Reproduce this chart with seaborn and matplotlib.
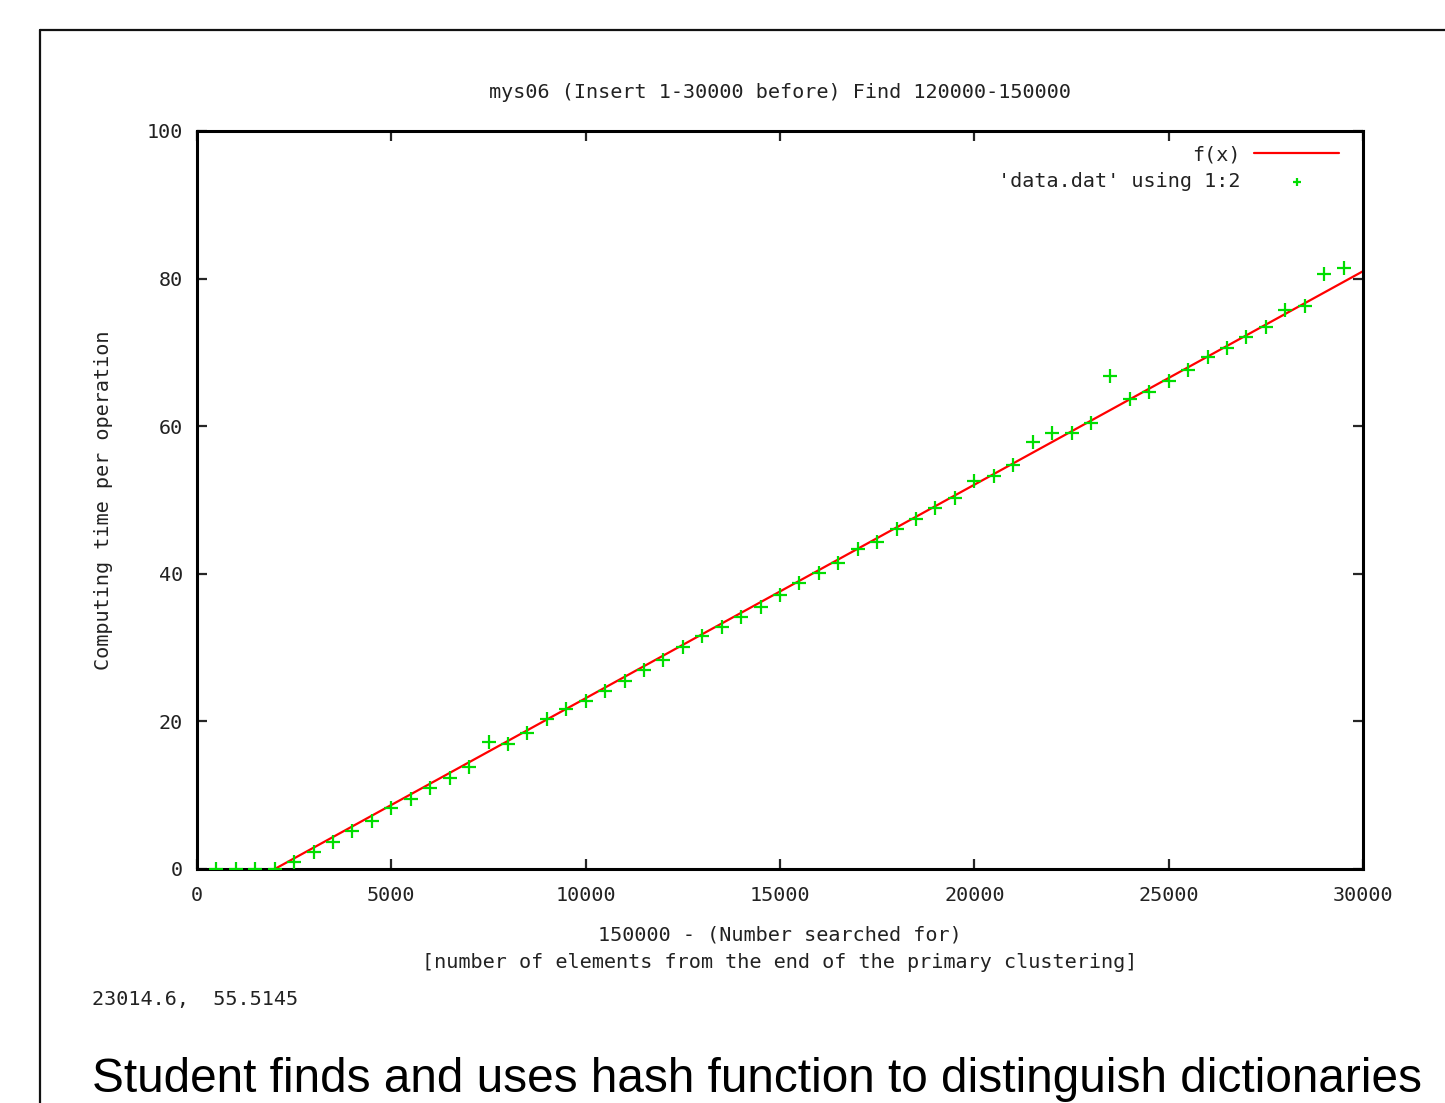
import numpy as np
import pandas as pd
import matplotlib.pyplot as plt
import seaborn as sns
from matplotlib.lines import Line2D

# measured points ('data.dat' using 1:2)
x_vals = [500, 1000, 1500, 2000, 2500, 3000, 3500, 4000, 4500, 5000,
          5500, 6000, 6500, 7000, 7500, 8000, 8500, 9000, 9500, 10000,
          10500, 11000, 11500, 12000, 12500, 13000, 13500, 14000, 14500, 15000,
          15500, 16000, 16500, 17000, 17500, 18000, 18500, 19000, 19500, 20000,
          20500, 21000, 21500, 22000, 22500, 23000, 23500, 24000, 24500, 25000,
          25500, 26000, 26500, 27000, 27500, 28000, 28500, 29000, 29500]
y_vals = [0, 0, 0, 0, 1.0, 2.3, 3.7, 5.1, 6.5, 8.3,
          9.5, 11.0, 12.3, 13.8, 17.2, 16.9, 18.4, 20.3, 21.7, 22.8,
          24.1, 25.5, 27.0, 28.3, 30.1, 31.6, 32.8, 34.1, 35.5, 37.1,
          38.8, 40.1, 41.5, 43.3, 44.3, 46.1, 47.4, 48.9, 50.3, 52.6,
          53.3, 54.7, 57.9, 59.1, 59.1, 60.4, 66.8, 63.7, 64.6, 66.1,
          67.6, 69.4, 70.6, 72.1, 73.4, 75.7, 76.3, 80.6, 81.4]

# fitted line f(x), read at its ends
fit_x = [2000, 30000]
fit_y = [0, 81]

x_ticks = [0, 5000, 10000, 15000, 20000, 25000, 30000]
y_ticks = [0, 20, 40, 60, 80, 100]

df = pd.DataFrame({"x": x_vals, "y": y_vals})
fit = pd.DataFrame({"x": fit_x, "y": fit_y})

sns.set_style("ticks")
plt.rcParams['font.family'] = ['DejaVu Sans Mono']
txt = "#222222"
fs = 14.5

fig = plt.figure(figsize=(14.45, 11.03), dpi=100)
ax = fig.add_axes([197/1445, 1 - 869/1103, (1363-197)/1445, (869-131)/1103])

sns.lineplot(data=fit, x="x", y="y", ax=ax, color="#ff0000", linewidth=1.6, label="f(x)")
sns.scatterplot(data=df, x="x", y="y", ax=ax, marker="+", s=110, linewidth=1.6,
                color="#00dd00", label="'data.dat' using 1:2", zorder=3)

ax.set_xlim(0, 30000)
ax.set_ylim(0, 100)
ax.set_xticks(x_ticks)
ax.set_yticks(y_ticks)
ax.tick_params(direction="in", length=7, width=1.6, top=True, right=True,
               labelsize=fs, labelcolor=txt)
ax.tick_params(axis="x", pad=12)
ax.tick_params(axis="y", pad=10)
for s in ax.spines.values():
    s.set_linewidth(2.2)
    s.set_color("black")

ax.set_title("mys06 (Insert 1-30000 before) Find 120000-150000", fontsize=fs, color=txt, pad=24)
ax.set_xlabel("150000 - (Number searched for)\n[number of elements from the end of the primary clustering]",
              fontsize=fs, color=txt, linespacing=1.55, labelpad=15)
ax.set_ylabel("Computing time per operation", fontsize=fs, color=txt, labelpad=24)

leg = ax.legend(loc="upper right", frameon=False, markerfirst=False, fontsize=fs,
                handlelength=4.2, labelspacing=0.4, handletextpad=0.7,
                bbox_to_anchor=(0.995, 1.005), markerscale=0.6)
for t in leg.get_texts():
    t.set_color(txt)

fig.text(92/1445, 1 - 1000/1103, "23014.6,  55.5145", fontsize=fs, color=txt, va="center", ha="left")
fig.text(92/1445, 1 - 1080/1103, "Student finds and uses hash function to distinguish dictionaries",
         fontsize=34.4, family="Liberation Sans", color="black", va="center", ha="left")

# outer frame (top and left edges)
fig.add_artist(Line2D([40/1445, 1], [1 - 30/1103, 1 - 30/1103], color="#111111", linewidth=1.6))
fig.add_artist(Line2D([40/1445, 40/1445], [0, 1 - 30/1103], color="#111111", linewidth=1.6))

fig.savefig("out.png", dpi=100)
